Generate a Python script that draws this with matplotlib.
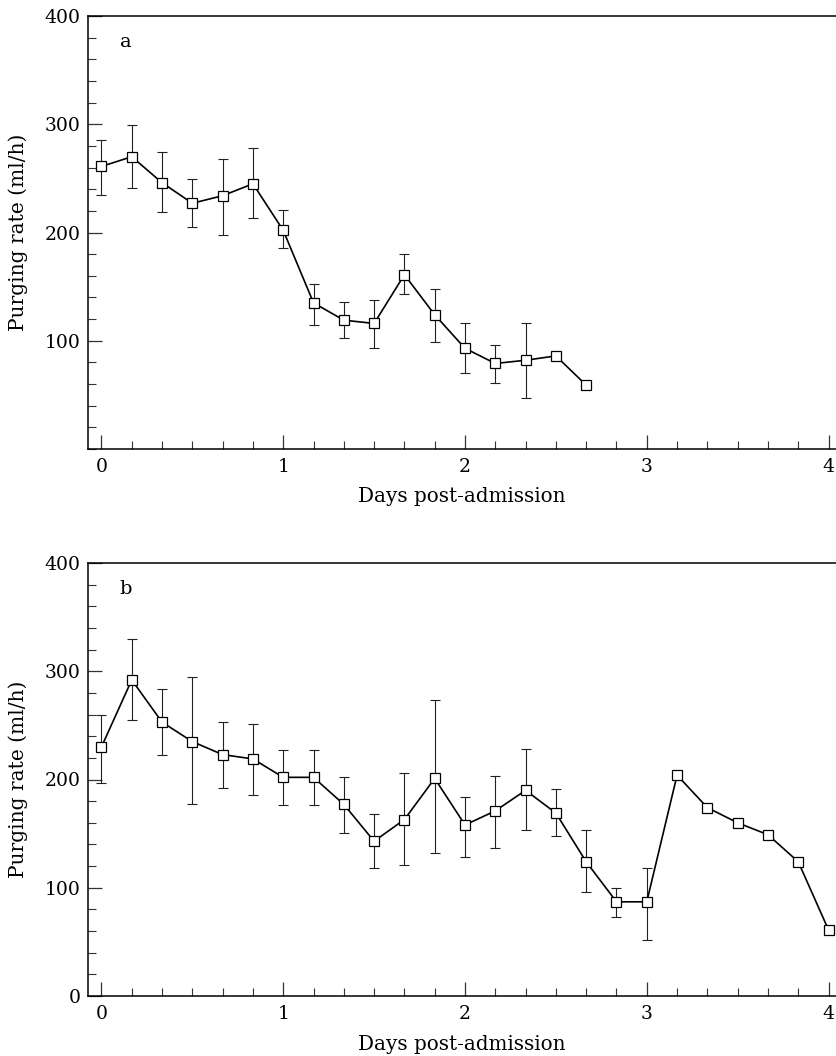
import matplotlib
matplotlib.use("Agg")
import matplotlib.pyplot as plt
from matplotlib.ticker import MultipleLocator, FixedLocator
import numpy as np

plt.rcParams['font.family'] = ['DejaVu Serif']

# ---------------- data ----------------
hours_a = [0, 4, 8, 12, 16, 20, 24, 28, 32, 36, 40, 44, 48, 52, 56, 60, 64]
rate_a = [261, 270, 246, 227, 234, 245, 202, 135, 119, 116, 161, 124, 93, 79, 82, 86, 59]
upper_a = [285, 299, 274, 249, 268, 278, 221, 152, 136, 138, 180, 148, 116, 96, 116, 88, 61]
lower_a = [235, 241, 219, 205, 198, 213, 186, 115, 103, 93, 143, 99, 70, 61, 47, 84, 57]

hours_b = [0, 4, 8, 12, 16, 20, 24, 28, 32, 36, 40, 44, 48, 52, 56, 60,
           64, 68, 72, 76, 80, 84, 88, 92, 96]
rate_b = [230, 292, 253, 235, 223, 219, 202, 202, 177, 143, 163, 201, 158,
          171, 190, 169, 124, 87, 87, 204, 174, 160, 149, 124, 61]
upper_b = [260, 330, 284, 295, 253, 251, 227, 227, 202, 168, 206, 273, 184,
           203, 228, 191, 153, 100, 118, 206, 176, 162, 151, 126, 63]
lower_b = [197, 255, 223, 177, 192, 186, 176, 176, 151, 118, 121, 132, 128,
           137, 153, 148, 96, 73, 52, 202, 172, 158, 147, 122, 59]

panels = [
    ("a", hours_a, rate_a, upper_a, lower_a, [100, 200, 300, 400]),
    ("b", hours_b, rate_b, upper_b, lower_b, [0, 100, 200, 300, 400]),
]

# ---------------- figure ----------------
W, H = 836, 1056
fig = plt.figure(figsize=(W / 100, H / 100), dpi=100)

left_px, right_px = 88, 836
tops_px = [16, 563]
ax_h_px = 433

for (letter, hrs, rate, up, lo, yt), top_px in zip(panels, tops_px):
    ax = fig.add_axes([left_px / W, 1 - (top_px + ax_h_px) / H,
                       (right_px - left_px) / W, ax_h_px / H])
    x = np.array(hrs) / 24.0
    r = np.array(rate, dtype=float)
    yerr = [r - np.array(lo), np.array(up) - r]
    ax.errorbar(x, r, yerr=yerr, fmt='none', ecolor='#222222',
                elinewidth=0.8, capsize=3.6, capthick=0.8, zorder=2)
    ax.plot(x, r, '-', color='black', lw=1.2, marker='s', ms=6.6,
            mfc='white', mec='black', mew=0.9, zorder=3)

    ax.set_xlim(-0.074, 4.041)
    ax.set_ylim(0, 400)
    ax.xaxis.set_major_locator(FixedLocator([0, 1, 2, 3, 4]))
    ax.xaxis.set_minor_locator(MultipleLocator(1 / 6))
    ax.set_xticklabels(['0', '1', '2', '3', '4'])
    ax.yaxis.set_major_locator(FixedLocator(yt))
    ax.yaxis.set_minor_locator(MultipleLocator(20))
    ax.set_yticklabels([str(v) for v in yt])

    ax.tick_params(which='both', direction='in', top=False, right=False,
                   labelsize=13.5, color='#333333')
    ax.tick_params(which='major', length=10, width=0.9, pad=6.5)
    ax.tick_params(which='minor', length=5.5, width=0.8)
    ax.tick_params(axis='y', which='major', pad=5.5)

    for s in ['left', 'bottom', 'top']:
        ax.spines[s].set_linewidth(1.1)
        ax.spines[s].set_color('black')
    ax.spines['right'].set_visible(False)

    ax.set_xlabel('Days post-admission', fontsize=14.3, va='center')
    ax.xaxis.set_label_coords(0.5, -48 / ax_h_px)
    ax.set_ylabel('Purging rate (ml/h)', fontsize=14.5, va='center')
    ax.yaxis.set_label_coords((18 - left_px) / (right_px - left_px), 0.5)

    ax.text((126 - left_px) / (right_px - left_px), 1 - 31 / ax_h_px, letter,
            transform=ax.transAxes, fontsize=14, va='baseline', ha='center')

fig.savefig('out.png', dpi=100)
